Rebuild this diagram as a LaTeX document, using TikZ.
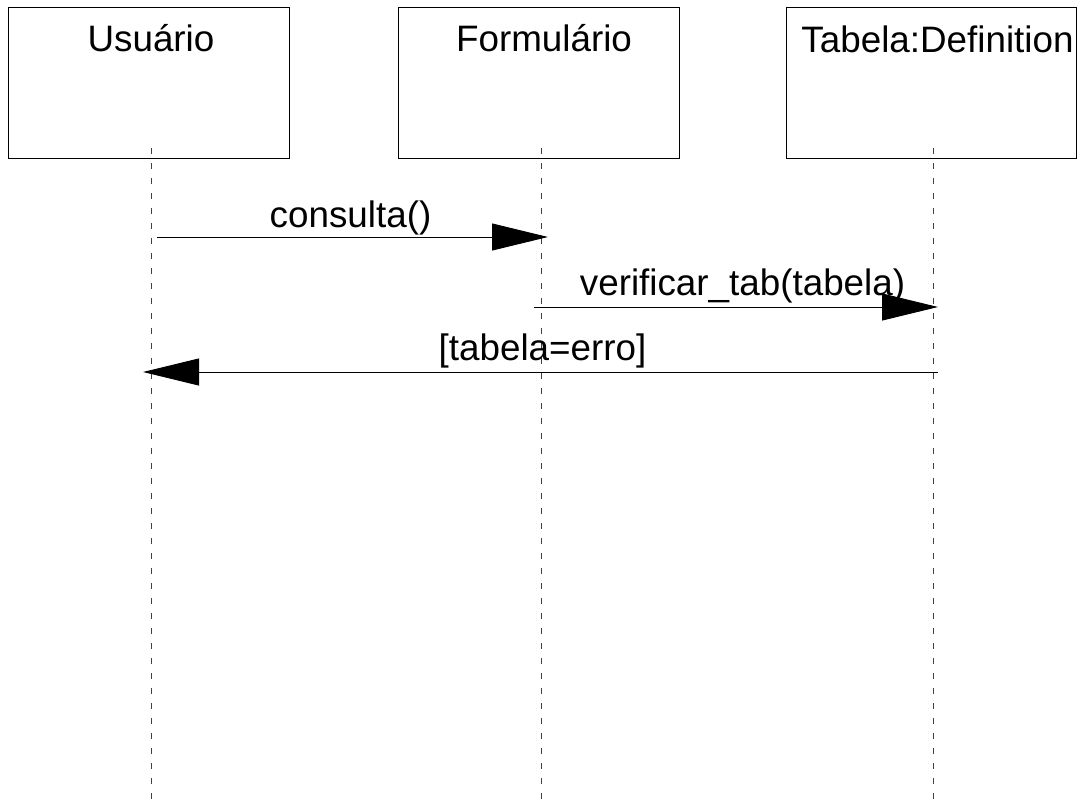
\documentclass[tikz,border=0pt]{standalone}
\usepackage{fontspec}
\setmainfont{Liberation Sans}
\usetikzlibrary{arrows.meta,positioning,calc}
\tikzset{
  obj/.style={draw, line width=1pt, minimum width=281pt, minimum height=151pt, inner sep=0pt},
  objname/.style={anchor=base, inner sep=0pt, font=\fontsize{36.8}{40}\selectfont},
  life/.style={draw=black!75, line width=1pt, dash pattern=on 6pt off 9pt},
  msg/.style={-{Triangle[length=56pt,width=27pt]}, draw=black, line width=0.9pt},
  msglabel/.style={anchor=base, inner sep=0pt, font=\fontsize{36.8}{40}\selectfont},
}

\begin{document}
\begin{tikzpicture}[x=1pt, y=-1pt]
  \useasboundingbox (0,0) rectangle (1083,801);
  % objects
  \node[obj] (usr) at (148.5,82.5) {};
  \node[obj] (form) at (538.5,82.5) {};
  \node[obj, minimum width=290pt] (tab) at (931,82.5) {};
  \node[objname] (usrT) at (151,51) {Usuário};
  \node[objname] (formT) at (544,51) {Formulário};
  \node[objname] (tabT) at (937.5,52) {Tabela:Definition};
  % lifelines
  \coordinate (usrA) at (151,148);  \coordinate (usrB) at (151,801);
  \coordinate (formA) at (541,148); \coordinate (formB) at (541,801);
  \coordinate (tabA) at (933,148);  \coordinate (tabB) at (933,801);
  \draw[life] (usrA) -- (usrB);
  \draw[life] (formA) -- (formB);
  \draw[life] (tabA) -- (tabB);
  % messages
  \coordinate (m1s) at (157,237);  \coordinate (m1e) at (548,237);
  \coordinate (m2s) at (534,307);  \coordinate (m2e) at (938,307);
  \coordinate (m3s) at (938,372);  \coordinate (m3e) at (143,372);
  \draw[msg] (m1s) -- (m1e);
  \draw[msg] (m2s) -- (m2e);
  \draw[msg] (m3s) -- (m3e);
  \node[msglabel] (m1T) at (350.5,227) {consulta()};
  \node[msglabel] (m2T) at (742.5,295) {verificar\_tab(tabela)};
  \node[msglabel] (m3T) at (542.5,360) {[tabela=erro]};
\end{tikzpicture}
\end{document}
